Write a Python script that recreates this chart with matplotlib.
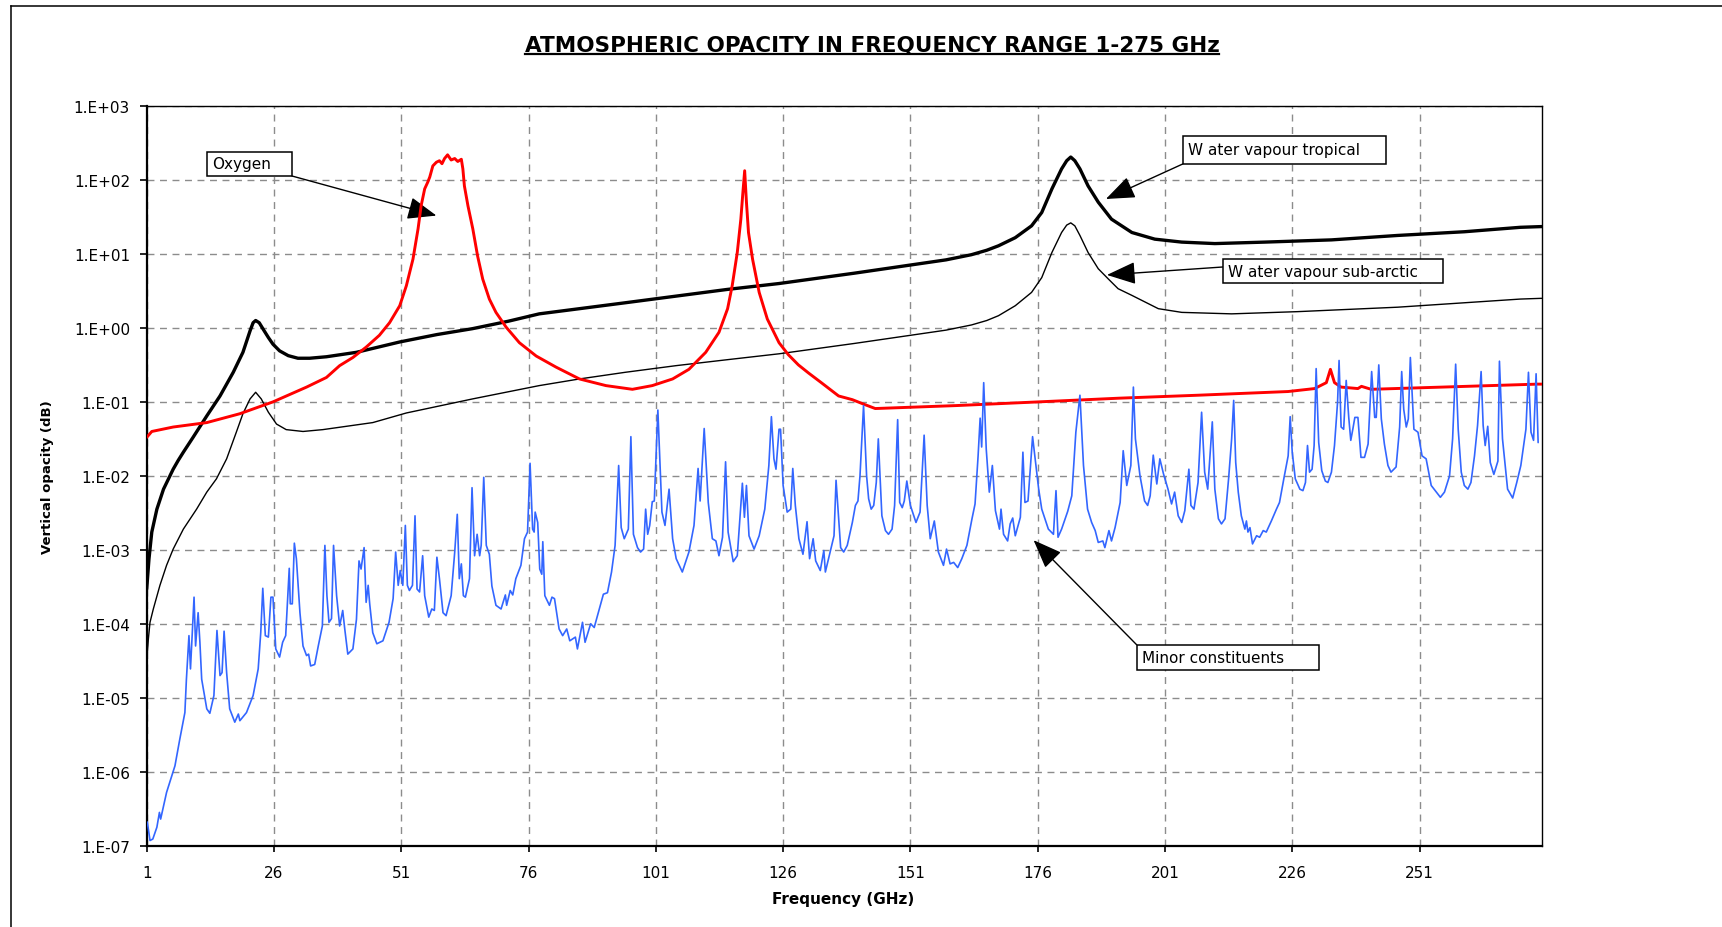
import matplotlib
matplotlib.use("Agg")
import matplotlib.pyplot as plt
import numpy as np
from matplotlib.lines import Line2D
from matplotlib.patches import Rectangle
from matplotlib.ticker import NullLocator

W, H = 1722, 928

# ---- data (frequency in GHz, opacity as decade exponent of the log axis) ----
oxygen_freq = [1.0, 2.0, 6.2, 12.8, 19.3, 25.8, 32.4, 36.3, 38.9, 41.5,
               44.1, 46.7, 48.7, 50.7, 52.0, 53.3, 54.3, 54.9, 55.6, 56.2,
               56.6, 57.2, 57.9, 58.5, 59.0, 59.5, 60.1, 60.8, 61.5, 62.1,
               62.8, 63.1, 63.4, 64.1, 65.05, 66.0, 67.0, 68.3, 69.6, 71.6,
               74.2, 77.5, 81.4, 86.0, 91.2, 96.4, 100.3, 104.3, 107.5, 110.8,
               113.4, 115.1, 116.0, 117.0, 117.7, 118.1, 118.45, 118.8, 119.2, 120.0,
               121.3, 122.9, 125.2, 127.0, 129.0, 131.0, 133.5, 136.9, 139.6, 141.8,
               144.1, 160.0, 176.2, 192.0, 207.5, 225.2, 230.4, 232.7, 233.5, 234.3,
               235.6, 238.9, 239.6, 241.5, 274.2, 275.0]
oxygen_exp = [-1.48, -1.40, -1.34, -1.28, -1.16, -1.0, -0.80, -0.67, -0.51, -0.40,
              -0.26, -0.1, 0.07, 0.30, 0.57, 0.93, 1.34, 1.65, 1.88, 1.97,
              2.04, 2.19, 2.24, 2.26, 2.22, 2.29, 2.34, 2.27, 2.29, 2.25,
              2.28, 2.15, 1.92, 1.65, 1.34, 0.97, 0.66, 0.39, 0.21, 0.01,
              -0.20, -0.38, -0.53, -0.69, -0.78, -0.83, -0.78, -0.69, -0.56, -0.33,
              -0.06, 0.26, 0.57, 1.02, 1.47, 1.83, 2.125, 1.70, 1.29, 0.93,
              0.48, 0.12, -0.20, -0.36, -0.50, -0.61, -0.74, -0.92, -0.97, -1.03,
              -1.09, -1.05, -1.0, -0.95, -0.91, -0.86, -0.82, -0.74, -0.56, -0.74,
              -0.80, -0.82, -0.79, -0.83, -0.76, -0.76]

tropical_freq = [1.0, 1.45, 2.0, 3.0, 4.3, 6.2, 7.2, 8.2, 10.1, 12.8,
                 15.4, 18.0, 19.9, 21.3, 21.9, 22.4, 23.1, 23.9, 24.9, 25.8,
                 27.1, 28.8, 30.7, 33.0, 36.3, 42.2, 50.7, 58.0, 65.0, 72.0,
                 78.1, 86.0, 95.0, 105.0, 115.0, 125.2, 140.0, 150.0, 158.0, 163.0,
                 166.0, 168.3, 171.6, 174.8, 176.8, 178.8, 180.7, 181.7, 182.5, 183.3,
                 184.3, 185.9, 187.9, 190.5, 194.5, 199.0, 204.3, 210.8, 220.6, 233.7,
                 246.7, 259.8, 270.8, 275.0]
tropical_exp = [-3.53, -3.12, -2.76, -2.45, -2.18, -1.91, -1.79, -1.68, -1.48, -1.19,
                -0.92, -0.60, -0.33, -0.04, 0.07, 0.10, 0.07, -0.02, -0.13, -0.22,
                -0.31, -0.375, -0.41, -0.41, -0.39, -0.33, -0.19, -0.09, -0.01, 0.09,
                0.19, 0.26, 0.34, 0.43, 0.52, 0.60, 0.74, 0.84, 0.92, 0.99,
                1.05, 1.11, 1.22, 1.38, 1.56, 1.88, 2.15, 2.26, 2.31, 2.26,
                2.15, 1.92, 1.70, 1.47, 1.29, 1.20, 1.16, 1.14, 1.16, 1.19,
                1.25, 1.30, 1.36, 1.37]

subarctic_freq = [1.0, 1.32, 1.65, 2.3, 3.6, 4.9, 6.2, 8.2, 10.8, 12.8,
                  14.7, 16.7, 18.6, 19.9, 21.3, 22.4, 23.5, 24.9, 26.5, 28.4,
                  31.7, 35.6, 45.4, 52.0, 65.0, 78.1, 86.0, 95.0, 105.0, 115.0,
                  125.2, 140.0, 150.0, 158.0, 163.0, 166.0, 168.3, 171.6, 174.8, 176.8,
                  178.8, 180.7, 181.7, 182.5, 183.3, 184.3, 185.9, 187.9, 189.9, 191.8,
                  194.5, 199.7, 204.3, 214.1, 227.1, 246.7, 270.8, 275.0]
subarctic_exp = [-4.5, -4.21, -3.98, -3.80, -3.48, -3.21, -2.99, -2.72, -2.45, -2.22,
                 -2.04, -1.77, -1.41, -1.16, -0.96, -0.87, -0.96, -1.14, -1.30, -1.375,
                 -1.40, -1.375, -1.28, -1.15, -0.96, -0.78, -0.69, -0.60, -0.51, -0.43,
                 -0.35, -0.21, -0.11, -0.03, 0.04, 0.10, 0.165, 0.30, 0.48, 0.68,
                 1.02, 1.29, 1.39, 1.42, 1.38, 1.25, 1.02, 0.80, 0.66, 0.53,
                 0.44, 0.26, 0.21, 0.19, 0.22, 0.28, 0.39, 0.40]

minor_freq = [
    1.12, 1.65, 2.2, 3.0, 3.5, 3.74, 4.9, 6.55, 7.5, 8.5, 8.8, 9.3, 9.6, 10.3, 10.6, 11.1, 11.45,
    11.8, 12.8, 13.4, 14.2, 14.8, 15.4, 15.8, 16.2, 16.7, 17.3, 18.3, 19.0, 19.3, 20.6, 21.9,
    22.9, 23.4, 23.8, 24.3, 24.9, 25.4, 25.8, 26.35, 27.1, 27.7, 28.3, 29.0, 29.2, 29.6, 30.0,
    30.4, 31.1, 31.7, 32.4, 32.8, 33.2, 34.0, 34.7, 35.5, 36.0, 36.4, 36.8, 37.3, 37.7, 38.3,
    38.9, 39.5, 39.9, 40.5, 41.5, 42.2, 42.7, 43.1, 43.7, 44.1, 44.5, 44.8, 45.4, 46.2, 47.4,
    48.6, 49.4, 49.9, 50.4, 50.8, 51.3, 51.8, 52.2, 52.6, 53.2, 53.7, 54.1, 54.6, 55.2, 55.6,
    56.4, 57.0, 57.5, 58.0, 58.5, 59.2, 59.8, 60.8, 61.5, 62.0, 62.4, 62.8, 63.2, 63.6, 64.4,
    64.9, 65.4, 65.9, 66.4, 66.7, 67.2,
    67.7, 68.3, 68.8, 69.6, 70.6, 71.45, 71.7, 72.4, 72.9, 73.5, 74.5, 75.2, 75.8, 76.3, 76.8,
    77.1, 77.3, 77.8, 78.2, 78.6, 78.8, 79.2, 80.1, 80.6, 81.1, 82.0, 82.7, 83.5, 84.1, 85.2,
    85.6, 86.6, 87.1, 88.2, 88.9, 89.9, 90.7, 91.5, 92.3, 93.0, 93.7, 94.2, 94.8, 95.6, 96.1,
    96.6, 97.4, 98.0, 98.6, 99.0, 99.4, 99.8, 100.3, 100.7, 101.4, 102.2, 102.8, 103.6, 104.3,
    105.0, 106.2, 107.5, 108.5, 109.3, 109.7, 110.5, 111.3, 112.1, 112.8, 113.4, 114.1, 114.7,
    115.2, 116.2, 117.0, 118.0, 118.4, 118.8, 119.3, 120.3, 121.3, 122.4, 123.2, 123.7, 124.2,
    124.6, 125.2, 125.5, 126.0, 126.8, 127.5, 127.9, 128.4, 129.1, 129.9, 130.7, 131.2, 131.9,
    132.4, 133.3, 134.0, 134.3, 135.3, 136.0, 136.4, 137.3,
    137.9, 138.6, 139.6, 140.2, 140.7, 141.1, 141.8, 142.4, 142.8, 143.3, 143.8, 144.3, 144.7,
    145.1, 145.4, 146.1, 146.7, 147.4, 147.9, 148.5, 148.9, 149.4, 149.8, 150.3, 151.0, 152.1,
    152.9, 153.7, 154.3, 154.9, 155.7, 156.5, 157.5, 158.1, 158.8, 159.5, 160.3, 161.1, 162.1,
    163.1, 163.7, 164.3, 164.7, 165.0, 165.4, 165.9, 166.5, 167.1, 167.7, 168.5, 168.8, 169.3,
    170.1, 170.6, 171.1, 171.6, 172.6, 173.1, 173.5, 174.1, 175.0, 176.2, 176.8, 178.1, 179.1,
    179.6, 180.0, 180.7, 181.9, 182.7, 183.5, 184.3, 185.0, 185.8, 186.6, 187.3, 187.9, 188.8,
    189.2, 190.0, 190.5, 191.2, 192.2, 192.8, 193.5, 194.3, 194.8, 195.2, 196.1, 197.0, 197.6,
    198.1, 198.7, 199.4, 200.0, 200.7, 201.6, 202.3, 202.9, 203.6, 204.3, 204.9, 205.7, 206.1,
    206.7, 207.5, 208.2, 208.8, 209.4, 210.3, 210.8, 211.5,
    212.1, 212.8, 213.5, 214.1, 214.5, 214.9, 215.4, 216.0, 216.7, 217.0, 217.3, 217.7, 218.2,
    219.0, 219.6, 220.3, 220.9, 221.9, 222.9, 223.5, 224.4, 225.2, 225.6, 226.0, 226.6, 227.5,
    228.1, 228.6, 229.0, 229.4, 229.9, 230.3, 230.7, 231.2, 231.8, 232.5, 233.0, 233.7, 234.3,
    234.9, 235.2, 235.6, 236.1, 236.6, 237.1, 237.5, 237.9, 238.3, 238.9, 239.5, 240.2, 240.9,
    241.6, 242.2, 242.5, 243.0, 243.5, 244.1, 244.8, 245.4, 246.4, 247.1, 247.5, 247.9, 248.4,
    248.8, 249.2, 249.9, 250.7, 251.5, 252.3, 253.3, 254.3, 255.1, 255.9, 256.9, 257.5, 258.1,
    258.6, 259.2, 259.8, 260.5, 261.1, 261.8, 262.4, 263.1, 263.5, 263.9, 264.4, 264.9, 265.6,
    266.4, 266.7, 267.3, 268.3, 269.3, 270.1, 270.9, 271.9, 272.4, 272.9, 273.4, 273.9, 274.3]
minor_exp = [
    -6.68, -6.93, -6.91, -6.75, -6.55, -6.64, -6.28, -5.92, -5.56, -5.2, -4.75, -4.16, -4.61,
    -3.64, -4.30, -3.85, -4.25, -4.75, -5.15, -5.21, -4.97, -4.09, -4.70, -4.66, -4.1, -4.66,
    -5.15, -5.33, -5.22, -5.31, -5.2, -4.97, -4.61, -4.12, -3.52, -4.16, -4.18, -3.64, -3.64,
    -4.34, -4.45, -4.25, -4.16, -3.25, -3.73, -3.73, -2.91, -3.12, -3.85, -4.30, -4.43, -4.41,
    -4.57, -4.55, -4.30, -4.03, -2.94, -3.62, -3.98, -3.93, -2.94, -3.62, -4.03, -3.82, -4.07,
    -4.41, -4.34, -3.94, -3.15, -3.26, -2.97, -3.71, -3.48, -3.73, -4.12, -4.27, -4.23, -3.98,
    -3.66, -3.03, -3.48, -3.28, -3.48, -2.67, -3.48, -3.55, -3.48, -2.54, -3.53, -3.57, -3.08,
    -3.62, -3.91, -3.80, -3.82, -3.10, -3.39, -3.85, -3.89, -3.62, -3.03, -2.52, -3.39, -3.19,
    -3.62, -3.64, -3.39, -2.16, -3.08, -2.79, -3.08, -2.94, -2.02,
    -2.94, -3.06, -3.49, -3.75, -3.80, -3.61, -3.75, -3.55, -3.61, -3.39, -3.21, -2.85, -2.76,
    -1.83, -2.72, -2.76, -2.49, -2.63, -3.26, -3.33, -2.89, -3.62, -3.75, -3.64, -3.66, -4.07,
    -4.16, -4.07, -4.23, -4.18, -4.34, -3.98, -4.25, -4.0, -4.05, -3.80, -3.6, -3.58, -3.30,
    -2.94, -1.86, -2.70, -2.85, -2.72, -1.47, -2.79, -2.97, -3.03, -2.99, -2.45, -2.79, -2.67,
    -2.35, -2.34, -1.11, -2.49, -2.67, -2.18, -2.85, -3.12, -3.30, -3.03, -2.67, -1.90, -2.34,
    -1.36, -2.36, -2.85, -2.88, -3.08, -2.83, -1.81, -2.76, -3.16, -3.08, -2.10, -2.56, -2.13,
    -2.81, -2.99, -2.81, -2.45, -1.86, -1.20, -1.77, -1.91, -1.37, -1.37, -2.13, -2.49, -2.45,
    -1.90, -2.40, -2.85, -3.06, -2.62, -3.12, -2.85, -3.15, -3.28, -3.01, -3.30, -3.01, -2.81,
    -2.06, -2.97,
    -3.03, -2.94, -2.63, -2.40, -2.34, -2.0, -1.05, -2.0, -2.31, -2.45, -2.40, -2.09, -1.50,
    -2.09, -2.54, -2.74, -2.79, -2.72, -2.40, -1.24, -2.36, -2.43, -2.34, -2.07, -2.40, -2.63,
    -2.49, -1.45, -2.40, -2.85, -2.61, -3.03, -3.21, -2.99, -3.19, -3.17, -3.24, -3.12, -2.94,
    -2.58, -2.38, -1.73, -1.22, -1.61, -0.74, -1.64, -2.22, -1.86, -2.47, -2.72, -2.45, -2.79,
    -2.88, -2.65, -2.57, -2.81, -2.56, -1.68, -2.36, -2.34, -1.47, -2.18, -2.45, -2.72, -2.79,
    -2.20, -2.83, -2.72, -2.48, -2.27, -1.41, -0.91, -1.86, -2.45, -2.63, -2.74, -2.90, -2.88,
    -2.97, -2.74, -2.88, -2.70, -2.36, -1.66, -2.13, -1.86, -0.80, -1.50, -2.0, -2.34, -2.40,
    -2.27, -1.72, -2.11, -1.77, -1.97, -2.18, -2.38, -2.22, -2.54, -2.63, -2.47, -1.91, -2.40,
    -2.45, -2.09, -1.14, -1.95, -2.18, -1.27, -2.18, -2.58,
    -2.65, -2.58, -2.04, -1.50, -0.98, -1.82, -2.22, -2.54, -2.72, -2.61, -2.76, -2.70, -2.92,
    -2.81, -2.83, -2.74, -2.76, -2.61, -2.45, -2.36, -2.02, -1.73, -1.20, -1.68, -2.04, -2.18,
    -2.20, -2.09, -1.59, -1.95, -1.91, -1.59, -0.55, -1.55, -1.93, -2.07, -2.09, -1.95, -1.59,
    -1.01, -0.44, -1.34, -1.37, -0.71, -1.21, -1.52, -1.37, -1.21, -1.21, -1.75, -1.75, -1.57,
    -0.59, -1.21, -1.21, -0.50, -1.23, -1.57, -1.86, -1.95, -1.88, -1.34, -0.59, -1.10, -1.34,
    -1.23, -0.40, -1.37, -1.41, -1.73, -1.77, -2.13, -2.22, -2.29, -2.22, -2.0, -1.50, -0.49,
    -1.37, -1.95, -2.13, -2.18, -2.09, -1.73, -1.32, -0.59, -1.32, -1.59, -1.33, -1.82, -1.98,
    -1.80, -0.45, -1.50, -2.18, -2.30, -2.09, -1.86, -1.37, -0.60, -1.41, -1.52, -0.62, -1.55]

freq_ticks = [1, 26, 51, 76, 101, 126, 151, 176, 201, 226, 251]
decades = [-7, -6, -5, -4, -3, -2, -1, 0, 1, 2, 3]
# -----------------------------------------------------------------------------------------------

fig = plt.figure(figsize=(W / 100, H / 100), dpi=100)
fig.patch.set_facecolor("white")


def fxy(px, py):
    """pixel position in the picture -> figure fraction"""
    return px / W, 1 - py / H


x0, y0 = fxy(146.7, 846.7)
x1, y1 = fxy(1541.7, 107)
ax = fig.add_axes([x0, y0, x1 - x0, y1 - y0])

line_kw = dict(solid_joinstyle="round", solid_capstyle="round")
ax.plot(tropical_freq, np.power(10.0, tropical_exp), color="black", lw=2.4, zorder=3, **line_kw)
ax.plot(subarctic_freq, np.power(10.0, subarctic_exp), color="black", lw=1.0, zorder=3, **line_kw)
ax.plot(oxygen_freq, np.power(10.0, oxygen_exp), color="#ff0000", lw=2.1, zorder=4, **line_kw)
ax.plot(minor_freq, np.power(10.0, minor_exp), color="#3366ff", lw=1.2, zorder=5, **line_kw)

ax.set_yscale("log")
ax.set_xlim(1, 275)
ax.set_ylim(1e-7, 1e3)
ax.set_xticks(freq_ticks)
ax.set_xticklabels([str(t) for t in freq_ticks])
ax.set_yticks([10.0 ** d for d in decades])
ax.set_yticklabels([f"1.E{d:+03d}" for d in decades])
ax.yaxis.set_minor_locator(NullLocator())

ax.grid(True, which="major", color="#8c8c8c", linestyle=(0, (5, 4)), lw=1.0, zorder=1)
ax.set_axisbelow(True)

for side in ["left", "bottom"]:
    ax.spines[side].set_linewidth(1.6)
for side in ["top", "right"]:
    ax.spines[side].set_linewidth(1.0)

ax.tick_params(axis="y", direction="out", length=5, width=1.2, labelsize=11, pad=7)
ax.tick_params(axis="x", direction="out", length=4, width=1.2, labelsize=11, pad=10)

# axis labels
fig.text(*fxy(843, 899.5), "Frequency (GHz)", ha="center", va="center",
         fontsize=11, fontweight="bold")
fig.text(*fxy(48, 477), "Vertical opacity (dB)", ha="center", va="center",
         rotation=90, fontsize=9.5, fontweight="bold")

# underlined title
title = fig.text(*fxy(872, 52), "ATMOSPHERIC OPACITY IN FREQUENCY RANGE 1-275 GHz",
                 ha="center", va="baseline", fontsize=15.5, fontweight="bold")
fig.canvas.draw()
bb = title.get_window_extent(fig.canvas.get_renderer())
uy = 1 - 54.5 / H
fig.add_artist(Line2D([bb.x0 / W, bb.x1 / W], [uy, uy], color="black", lw=1.6))

# outer frame (only left and top edges fall inside the picture)
fl, ft = fxy(11, 7)
fig.add_artist(Line2D([fl, fl], [0, ft], color="black", lw=1.1))
fig.add_artist(Line2D([fl, 1], [ft, ft], color="black", lw=1.1))

# callout boxes with arrows
callouts = [
    # text, box (left, top, right, bottom) px, arrow start px, arrow tip (GHz, opacity)
    ("Oxygen", (207, 153, 292, 177), (292, 177), (57.9, 33.0)),
    ("W ater vapour tropical", (1182.7, 136.7, 1386, 165), (1182.7, 165), (189.4, 55.3)),
    ("W ater vapour sub-arctic", (1222.7, 260, 1443, 284), (1222.7, 268), (189.6, 5.2)),
    ("Minor constituents", (1136.6, 645.7, 1319, 671), (1136.6, 645.7), (175.2, 1.35e-3)),
]
for label, (l, t, r, b), start, tip in callouts:
    bl = fxy(l, b)
    tr = fxy(r, t)
    fig.add_artist(Rectangle(bl, tr[0] - bl[0], tr[1] - bl[1], transform=fig.transFigure,
                             facecolor="white", edgecolor="black", lw=1.1, zorder=6))
    fig.text(*fxy(l + 5, (t + b) / 2), label, ha="left", va="center", fontsize=11, zorder=7)
    ax.annotate("", xy=tip, xycoords="data", xytext=fxy(*start),
                textcoords="figure fraction", annotation_clip=False,
                arrowprops=dict(arrowstyle="-|>,head_length=0.9,head_width=0.35",
                                color="black", lw=1.0, shrinkA=0, shrinkB=0,
                                mutation_scale=20))

fig.savefig("out.png", dpi=100, facecolor="white")
